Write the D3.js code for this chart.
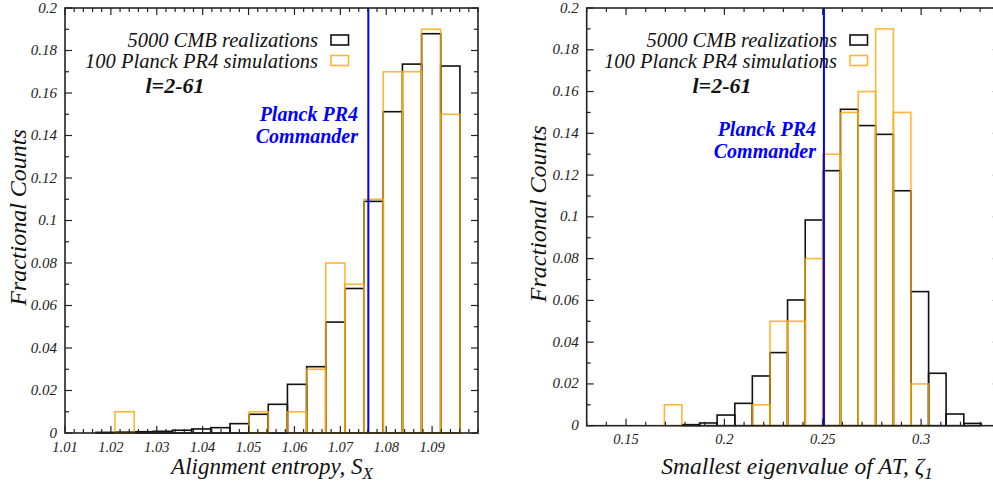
<!DOCTYPE html>
<html><head><meta charset="utf-8">
<script src="https://cdn.jsdelivr.net/npm/d3@7"></script>
<style>body{margin:0;background:#fff}svg{display:block}text{font-family:"Liberation Serif","Times New Roman",serif;font-style:italic}</style>
</head><body><svg id="c" width="993" height="485"></svg>
<script>
// ---------- data ----------
const leftEdges = [1.01671,1.02089,1.02508,1.02924,1.03342,1.03760,1.04176,1.04595,1.05013,1.05429,1.05847,1.06266,1.06682,1.07100,1.07518,1.07935,1.08353,1.08771,1.09187,1.09606];
const leftCMB = [0.0003,0.0004,0.0006,0.0008,0.0013,0.0019,0.0025,0.0044,0.0088,0.0135,0.0229,0.0312,0.0522,0.068,0.109,0.1512,0.1736,0.1879,0.1727];
const leftPR4 = [0,0.01,0,0,0,0,0,0,0.01,0,0.01,0.03,0.08,0.07,0.11,0.17,0.17,0.19,0.15];
const leftObs = 1.0761;
const leftXTicks = [1.01,1.02,1.03,1.04,1.05,1.06,1.07,1.08,1.09];
const leftXDomain = [1.01,1.10];

const rightEdges = [0.1695,0.1784,0.1874,0.1963,0.2053,0.2142,0.2232,0.2321,0.2411,0.2500,0.2590,0.2680,0.2769,0.2859,0.2948,0.3038,0.3127,0.3217,0.3306];
const rightCMB = [0,0.0005,0.0013,0.0051,0.0107,0.0238,0.035,0.0602,0.0985,0.1221,0.1515,0.1437,0.1395,0.1125,0.0642,0.0251,0.0056,0.0011];
const rightPR4 = [0.01,0,0,0,0,0.01,0.05,0.05,0.08,0.13,0.15,0.16,0.19,0.15,0.02,0,0,0];
const rightObs = 0.2506;
const rightXTicks = [0.15,0.2,0.25,0.3];
const rightXDomain = [0.13,0.34];

const yTicks = [0,0.02,0.04,0.06,0.08,0.1,0.12,0.14,0.16,0.18,0.2];
const yTickLabels = ["0","0.02","0.04","0.06","0.08","0.1","0.12","0.14","0.16","0.18","0.2"];
const legendLabels = ["5000 CMB realizations","100 Planck PR4 simulations"];
const rangeLabel = "l=2-61";
const obsLabel = ["Planck PR4","Commander"];

const svg = d3.select("#c");

function panel(o){
  const x = d3.scaleLinear().domain(o.xDomain).range([o.x0,o.x1]);
  const y = d3.scaleLinear().domain([0,0.2]).range([o.y1,o.y0]);
  const g = svg.append("g");
  const clipId = "clip"+o.id;
  svg.append("clipPath").attr("id",clipId).append("rect")
    .attr("x",o.x0).attr("y",o.y0-1).attr("width",o.x1-o.x0).attr("height",o.y1-o.y0+2);
  const pg = g.append("g").attr("clip-path","url(#"+clipId+")");

  const cmb = o.cmb.map((v,i)=>({a:o.edges[i],b:o.edges[i+1],v})).filter(d=>d.v>0);
  pg.selectAll("rect.cmb").data(cmb).join("rect").attr("class","cmb")
    .attr("x",d=>x(d.a)).attr("width",d=>x(d.b)-x(d.a))
    .attr("y",d=>y(d.v)).attr("height",d=>y(0)-y(d.v))
    .attr("fill","none").attr("stroke","#111").attr("stroke-width",1.6);
  const pr = o.pr4.map((v,i)=>({a:o.edges[i],b:o.edges[i+1],v})).filter(d=>d.v>0);
  pg.selectAll("rect.pr4").data(pr).join("rect").attr("class","pr4")
    .attr("x",d=>x(d.a)).attr("width",d=>x(d.b)-x(d.a))
    .attr("y",d=>y(d.v)).attr("height",d=>y(0)-y(d.v))
    .attr("fill","none").attr("stroke","#ffa500").attr("stroke-opacity",0.8).attr("stroke-width",1.6);

  pg.append("line").attr("x1",x(o.obs)).attr("x2",x(o.obs)).attr("y1",o.y0).attr("y2",o.y1)
    .attr("stroke","#0000ff").attr("stroke-width",2);

  g.append("rect").attr("x",o.x0).attr("y",o.y0).attr("width",o.x1-o.x0).attr("height",o.y1-o.y0)
    .attr("fill","none").attr("stroke","#222").attr("stroke-width",1.6);

  const tk = g.append("g").attr("stroke","#222").attr("stroke-width",1.2);
  const xMinor = d3.range(Math.round(o.xDomain[0]/o.minorStep), Math.round(o.xDomain[1]/o.minorStep)+1).map(k=>k*o.minorStep);
  const isMajor = v => o.xTicks.some(t=>Math.abs(t-v)<1e-9);
  xMinor.forEach(v=>{
    const L = isMajor(v)?7:4, px=x(v);
    tk.append("line").attr("x1",px).attr("x2",px).attr("y1",o.y1).attr("y2",o.y1-L);
    tk.append("line").attr("x1",px).attr("x2",px).attr("y1",o.y0).attr("y2",o.y0+L);
  });
  d3.range(0,21).map(k=>k*0.01).forEach((v,k)=>{
    const L = k%2===0?7:4, py=y(v);
    tk.append("line").attr("x1",o.x0).attr("x2",o.x0+L).attr("y1",py).attr("y2",py);
    tk.append("line").attr("x1",o.x1).attr("x2",o.x1-L).attr("y1",py).attr("y2",py);
  });

  g.selectAll("text.xt").data(o.xTicks).join("text").attr("class","xt")
    .attr("x",d=>x(d)).attr("y",o.y1+18.5).attr("text-anchor","middle")
    .attr("font-size",14.5).attr("fill","#222").text(d=>o.xFmt(d));
  g.selectAll("text.yt").data(yTicks).join("text").attr("class","yt")
    .attr("x",o.x0-8).attr("y",d=>y(d)+4.5).attr("text-anchor","end")
    .attr("font-size",15).attr("fill","#222").text((d,i)=>yTickLabels[i]);

  g.append("text").attr("transform",`translate(${o.yLabX},${(o.y0+o.y1)/2-3}) rotate(-90)`)
    .attr("text-anchor","middle").attr("font-size",24).attr("fill","#111").text("Fractional Counts");
  const xt = g.append("text").attr("x",o.xLabX).attr("y",474).attr("text-anchor","middle")
    .attr("font-size",o.xLabSize).attr("fill","#111");
  xt.append("tspan").text(o.xLab[0]);
  xt.append("tspan").attr("font-size",17).attr("dy",5).text(o.xLab[1]);

  legendLabels.forEach((t,i)=>{
    g.append("text").attr("x",o.legX).attr("y",47+i*20.7).attr("text-anchor","end")
      .attr("font-size",20.5).attr("fill","#111").text(t);
    g.append("rect").attr("x",o.legX+13).attr("y",35+i*20.5).attr("width",17.5).attr("height",10)
      .attr("fill","none").attr("stroke",i===0?"#111":"#ffa500").attr("stroke-opacity",i===0?1:0.8).attr("stroke-width",1.6);
  });
  g.append("text").attr("x",o.lX).attr("y",93).attr("text-anchor","middle")
    .attr("font-size",22).attr("font-weight","bold").attr("fill","#111").text(rangeLabel);
  obsLabel.forEach((t,i)=>{
    g.append("text").attr("x",o.obsX).attr("y",o.obsY+i*21.5).attr("text-anchor","end")
      .attr("font-size",20).attr("font-weight","bold").attr("fill","#0000ff").text(t);
  });
}

panel({id:"L",x0:65,x1:478,y0:8,y1:433,xDomain:leftXDomain,edges:leftEdges,cmb:leftCMB,pr4:leftPR4,obs:leftObs,
  xTicks:leftXTicks,minorStep:0.002,xFmt:d=>d3.format(".2f")(d),yLabX:26,xLabX:272,xLabSize:23,xLab:["Alignment entropy, S","X"],
  legX:318,lX:175,obsX:358,obsY:121});
panel({id:"R",x0:586.7,x1:999.8,y0:8,y1:425.7,xDomain:rightXDomain,edges:rightEdges,cmb:rightCMB,pr4:rightPR4,obs:rightObs,
  xTicks:rightXTicks,minorStep:0.01,xFmt:d=>String(d),yLabX:546,xLabX:797,xLabSize:23.5,xLab:["Smallest eigenvalue of AT, ζ","1"],
  legX:837,lX:722,obsX:816,obsY:136});
</script></body></html>
